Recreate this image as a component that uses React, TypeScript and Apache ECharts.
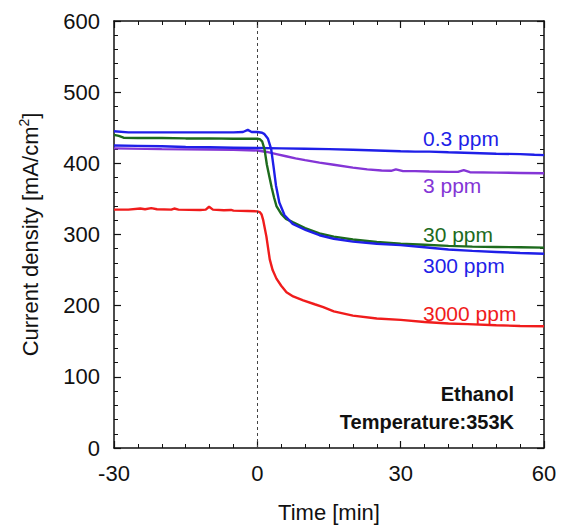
import React, { useEffect, useRef } from "react";
import * as echarts from "echarts";

// Time axis [min] and current density [mA/cm2] traces for each ethanol level
const t03 = [-30, -25, -20, -15, -10, -5, 0, 5, 10, 15, 20, 25, 30, 33, 36, 40, 45, 50, 55, 58, 60];
const v03 = [425, 424.5, 424, 423, 422.5, 422, 421.5, 421, 420.5, 420, 419, 418, 417, 416.5, 416.5, 415.5, 414.5, 413.5, 413, 412, 411.5];

const t3 = [-30, -20, -10, -5, 0, 2, 4, 6, 8, 10, 13, 16, 20, 23, 26, 28, 29, 30.5, 33, 36, 40, 42, 43.2, 44.5, 50, 55, 60];
const v3 = [421, 420, 419.5, 419, 418, 416, 413, 410, 407, 404.5, 401, 398, 394, 391.5, 390, 389.5, 391.5, 389, 389, 388.5, 388, 388, 390.5, 387.5, 387, 386.5, 386];

const t30 = [-30, -29, -28, -25, -20, -15, -10, -5, 0, 0.5, 1, 1.5, 2, 2.5, 3, 3.5, 4, 5, 6, 7.5, 10, 13, 16, 20, 25, 30, 35, 40, 45, 50, 55, 60];
const v30 = [440, 438.5, 436, 435.5, 435.5, 435, 435, 434.5, 434.5, 434, 431, 420, 398, 382, 366, 352, 340, 329, 322, 317, 309, 301.5, 297, 293, 289.5, 287, 285.5, 284, 283, 282.5, 282, 281.5];

const t300 = [-30, -27, -20, -10, -5, -3, -2, -1.2, 0, 1, 1.5, 2.2, 2.9, 3.4, 3.9, 4.6, 5.7, 7.4, 10.2, 13, 16, 20, 25, 30, 35, 40, 45, 50, 55, 60];
const v300 = [445, 443.5, 443.5, 443.5, 443.5, 444, 447, 444, 444, 443, 441, 435, 420, 395, 369, 345, 327, 315, 306, 299, 294, 290, 287, 285, 282, 279, 277, 275.5, 274, 273];

const t3000 = [-30, -27, -24.5, -23.5, -22.2, -21, -18, -17.4, -16.5, -12, -10.8, -10.1, -9.3, -7, -5.5, -5, -2, 0, 0.5, 0.9, 1.2, 1.9, 2.6, 3.2, 4, 5, 6.1, 7.5, 9.6, 12, 13.8, 16, 20, 25, 30, 35, 40, 44, 50, 55, 60];
const v3000 = [335, 335, 336.5, 335.5, 337, 335.5, 335, 336.5, 335, 334.5, 335, 339, 335, 334, 334.5, 333.5, 333, 332.5, 331.5, 328, 321, 297, 265, 250, 238, 228, 219, 213, 207.5, 202, 198, 192, 186, 182, 180, 177, 175, 174, 172.5, 171.5, 171];

const seriesNames = ["0.3 ppm", "3 ppm", "30 ppm", "300 ppm", "3000 ppm"];
const seriesColors = ["#1f1fe8", "#8435d6", "#1d6b1d", "#1f1fe8", "#f01c1c"];

const xTicks = { min: -30, max: 60, interval: 30 };
const yTicks = { min: 0, max: 600, interval: 100 };

const pairs = (t: number[], v: number[]) => t.map((x, i) => [x, v[i]]);

const FONT = "'Liberation Sans', Arial, Helvetica, sans-serif";

export default function App() {
  const ref = useRef<HTMLDivElement>(null);

  useEffect(() => {
    if (!ref.current) return;
    const chart = echarts.init(ref.current, undefined, { renderer: "svg" });

    const axisLine = { show: true, onZero: false, lineStyle: { color: "#111", width: 1.5 } };
    const tick = { show: true, inside: true, length: 7, lineStyle: { color: "#111", width: 1.2 } };
    const minor = (n: number) => ({ show: true, splitNumber: n, length: 4, lineStyle: { color: "#111", width: 1 } });

    const seriesData = [
      pairs(t03, v03),
      pairs(t3, v3),
      pairs(t30, v30),
      pairs(t300, v300),
      pairs(t3000, v3000),
    ];
    // draw order: red first, then purple, 0.3 ppm, green, 300 ppm on top
    const order = [4, 1, 0, 2, 3];

    const series: any[] = order.map((k, idx) => ({
      type: "line",
      name: seriesNames[k],
      data: seriesData[k],
      showSymbol: false,
      symbol: "none",
      smooth: false,
      lineStyle: { color: seriesColors[k], width: 2.4 },
      z: 3 + idx,
      ...(idx === 0
        ? {
            markLine: {
              silent: true,
              symbol: "none",
              label: { show: false },
              lineStyle: { color: "#444", type: [3, 3], width: 1 },
              data: [{ xAxis: 0 }],
            },
          }
        : {}),
    }));

    const labelY = [138, 185, 234, 265.5, 313];
    const graphic: any[] = seriesNames.map((name, k) => ({
      type: "text",
      x: 423,
      y: labelY[k],
      style: {
        text: name,
        fill: seriesColors[k],
        font: `21px ${FONT}`,
        verticalAlign: "middle",
        align: "left",
      },
    }));
    graphic.push(
      {
        type: "text",
        x: 514,
        y: 394,
        style: { text: "Ethanol", fill: "#111", font: `bold 20px ${FONT}`, align: "right", verticalAlign: "middle" },
      },
      {
        type: "text",
        x: 514,
        y: 422,
        style: {
          text: "Temperature:353K",
          fill: "#111",
          font: `bold 20px ${FONT}`,
          align: "right",
          verticalAlign: "middle",
        },
      }
    );

    chart.setOption({
      animation: false,
      backgroundColor: "#fff",
      textStyle: { fontFamily: FONT },
      grid: { left: 114, right: 24, top: 21, bottom: 78, containLabel: false },
      xAxis: [
        {
          type: "value",
          min: xTicks.min,
          max: xTicks.max,
          interval: xTicks.interval,
          position: "bottom",
          name: "Time [min]",
          nameLocation: "middle",
          nameGap: 53,
          nameTextStyle: { fontSize: 22, color: "#111", fontFamily: FONT },
          axisLine,
          axisTick: tick,
          minorTick: minor(6),
          axisLabel: { fontSize: 22, color: "#111", margin: 14, fontFamily: FONT },
          splitLine: { show: false },
        },
        {
          type: "value",
          min: xTicks.min,
          max: xTicks.max,
          interval: xTicks.interval,
          position: "top",
          axisLine,
          axisTick: tick,
          minorTick: minor(6),
          axisLabel: { show: false },
          splitLine: { show: false },
        },
      ],
      yAxis: [
        {
          type: "value",
          min: yTicks.min,
          max: yTicks.max,
          interval: yTicks.interval,
          position: "left",
          name: "{a|Current density [mA/cm}{s|2}{a|]}",
          nameLocation: "middle",
          nameRotate: 90,
          nameGap: 71,
          nameTextStyle: {
            rich: {
              a: { fontSize: 22, color: "#111", fontFamily: FONT, lineHeight: 26 },
              s: { fontSize: 14, color: "#111", fontFamily: FONT, verticalAlign: "top", lineHeight: 26 },
            },
          },
          axisLine,
          axisTick: tick,
          minorTick: minor(5),
          axisLabel: { fontSize: 22, color: "#111", margin: 14, fontFamily: FONT },
          splitLine: { show: false },
        },
        {
          type: "value",
          min: yTicks.min,
          max: yTicks.max,
          interval: yTicks.interval,
          position: "right",
          axisLine,
          axisTick: tick,
          minorTick: minor(5),
          axisLabel: { show: false },
          splitLine: { show: false },
        },
      ],
      series,
      graphic,
    });

    return () => chart.dispose();
  }, []);

  return (
    <div
      ref={ref}
      style={{ position: "absolute", left: 0, top: 0, width: 568, height: 528, background: "#fff" }}
    />
  );
}
